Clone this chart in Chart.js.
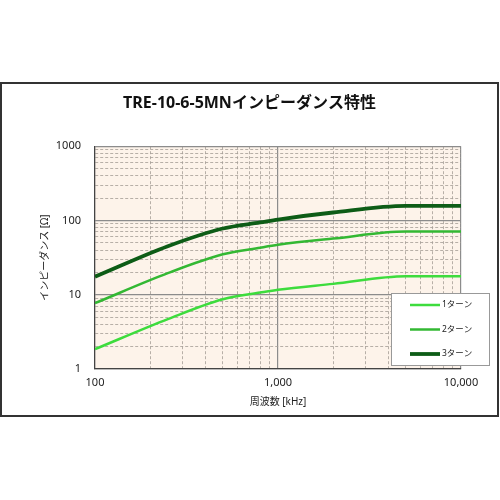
<!DOCTYPE html>
<html>
<head>
<meta charset="utf-8">
<script src="https://cdn.jsdelivr.net/npm/chart.js@4.4.1/dist/chart.umd.min.js"></script>
<style>
html, body { margin: 0; padding: 0; background: #fff; }
#frame {
    position: absolute; left: 0; top: 82px;
    width: 499px; height: 335px;
    box-sizing: border-box;
    border: 2px solid #333;
    background: #fff;
}
#frame canvas { display: block; }
</style>
</head>
<body>
<div id="frame"><canvas id="c" width="495" height="331"></canvas></div>
<script>
// frequency [kHz] and impedance [ohm]
const freqs  = [ 100, 250, 500, 800, 1000, 2000, 5000, 10000 ];
const turns1 = [ 1.85, 4.7, 8.7, 10.7, 11.7, 14, 17.7, 17.7 ];
const turns2 = [ 7.7, 19.5, 35, 43, 47, 57, 71, 71 ];
const turns3 = [ 17.5, 45, 78, 94, 103, 128, 157, 157 ];

const seriesLabels = [ '1ターン', '2ターン', '3ターン' ];
const seriesColors = [ '#3ddc3d', '#33b833', '#0d5c16' ];
const seriesWidths = [ 2.5, 2.5, 3.8 ];

const xMajor = [ 100, 1000, 10000 ];
const xMajorLabels = [ '100', '1,000', '10,000' ];
const yMajor = [ 1, 10, 100, 1000 ];
const yMajorLabels = [ '1', '10', '100', '1000' ];

const FONT = "'Noto Sans', 'Noto Sans CJK JP', sans-serif";
Chart.defaults.font.family = FONT;
Chart.defaults.color = '#222';
Chart.defaults.animation = false;

// decade ticks plus 2..9 minor ticks in between
function logTicks ( majors ) {
    const out = [];
    majors.forEach( ( m, i ) => {
        out.push( { value: m } );
        if ( i < majors.length - 1 ) {
            for ( let k = 2; k <= 9; k++ ) out.push( { value: m * k } );
        }
    } );
    return out;
}

function isMajor ( list, v ) {
    return list.some( m => Math.abs( m - v ) / m < 1e-6 );
}

const plotBg = {
    id: 'plotBg',
    beforeDraw ( chart ) {
        const { ctx, chartArea: a } = chart;
        ctx.save();
        ctx.fillStyle = '#fdf3ea';
        ctx.fillRect( a.left, a.top, a.right - a.left, a.bottom - a.top );
        ctx.restore();
    }
};

const boxLegend = {
    id: 'boxLegend',
    afterDraw ( chart ) {
        const ctx = chart.ctx;
        const x = 389, y = 209, w = 98, h = 72;
        ctx.save();
        ctx.fillStyle = '#fff';
        ctx.fillRect( x, y, w, h );
        ctx.strokeStyle = '#999';
        ctx.lineWidth = 1;
        ctx.strokeRect( x + 0.5, y + 0.5, w, h );
        ctx.font = '8.5px ' + FONT;
        ctx.textBaseline = 'middle';
        chart.data.datasets.forEach( ( ds, i ) => {
            const ly = y + 12 + i * 24.5;
            ctx.strokeStyle = ds.borderColor;
            ctx.lineWidth = ds.borderWidth;
            ctx.beginPath();
            ctx.moveTo( x + 19, ly );
            ctx.lineTo( x + 49, ly );
            ctx.stroke();
            ctx.fillStyle = '#222';
            ctx.fillText( ds.label, x + 51, ly );
        } );
        ctx.restore();
    }
};

const seriesData = [ turns1, turns2, turns3 ];

const majorColor = '#8c8c8c';
const minorColor = '#a59d96';

new Chart( document.getElementById( 'c' ), {
    type: 'line',
    data: {
        datasets: seriesData.map( ( vals, i ) => ( {
            label: seriesLabels[ i ],
            data: vals.map( ( v, j ) => ( { x: freqs[ j ], y: v } ) ),
            borderColor: seriesColors[ i ],
            borderWidth: seriesWidths[ i ],
            pointRadius: 0,
            cubicInterpolationMode: 'monotone'
        } ) )
    },
    options: {
        responsive: false,
        layout: { padding: { left: 18, right: 18, top: 0, bottom: 0 } },
        plugins: {
            legend: { display: false },
            tooltip: { enabled: false },
            title: {
                display: true,
                text: 'TRE-10-6-5MNインピーダンス特性',
                color: '#111',
                font: { size: 16, weight: 'bold', lineHeight: 1.2 },
                padding: { top: 10, bottom: 33 }
            }
        },
        scales: {
            x: {
                type: 'logarithmic',
                min: 100,
                max: 10000,
                afterBuildTicks ( scale ) { scale.ticks = logTicks( xMajor ); },
                afterFit ( scale ) { scale.height = 46; },
                ticks: {
                    autoSkip: false,
                    maxRotation: 0,
                    padding: 7,
                    font: { size: 11 },
                    callback ( v ) {
                        const i = xMajor.findIndex( m => Math.abs( m - v ) / m < 1e-6 );
                        return i >= 0 ? xMajorLabels[ i ] : '';
                    }
                },
                grid: {
                    drawTicks: false,
                    color: ( c ) => isMajor( xMajor, c.tick ? c.tick.value : 0 ) ? majorColor : minorColor,
                    lineWidth: ( c ) => isMajor( xMajor, c.tick ? c.tick.value : 0 ) ? 1.2 : 0.8
                },
                border: {
                    color: '#444',
                    width: 1.2,
                    dash: ( c ) => isMajor( xMajor, c.tick ? c.tick.value : 0 ) ? [] : [ 3, 2 ]
                },
                title: {
                    display: true,
                    text: '周波数 [kHz]',
                    font: { size: 10 },
                    padding: { top: 0, bottom: 7 }
                }
            },
            y: {
                type: 'logarithmic',
                min: 1,
                max: 1000,
                afterBuildTicks ( scale ) { scale.ticks = logTicks( yMajor ); },
                afterFit ( scale ) { scale.width = 75; },
                ticks: {
                    autoSkip: false,
                    padding: 14,
                    font: { size: 11 },
                    callback ( v ) {
                        const i = yMajor.findIndex( m => Math.abs( m - v ) / m < 1e-6 );
                        return i >= 0 ? yMajorLabels[ i ] : '';
                    }
                },
                grid: {
                    drawTicks: false,
                    color: ( c ) => isMajor( yMajor, c.tick ? c.tick.value : 0 ) ? majorColor : minorColor,
                    lineWidth: ( c ) => isMajor( yMajor, c.tick ? c.tick.value : 0 ) ? 1.2 : 0.8
                },
                border: {
                    color: '#444',
                    width: 1.2,
                    dash: ( c ) => isMajor( yMajor, c.tick ? c.tick.value : 0 ) ? [] : [ 3, 2 ]
                },
                title: {
                    display: true,
                    text: 'インピーダンス [Ω]',
                    font: { size: 10 },
                    padding: { top: 19, bottom: 0 }
                }
            },
            // empty right-hand axis, only to leave room for the legend overhang
            rightGap: {
                position: 'right',
                grid: { display: false },
                border: { display: false },
                ticks: { display: false },
                afterFit ( scale ) { scale.width = 18; }
            }
        }
    },
    plugins: [ plotBg, boxLegend ]
} );
</script>
</body>
</html>
